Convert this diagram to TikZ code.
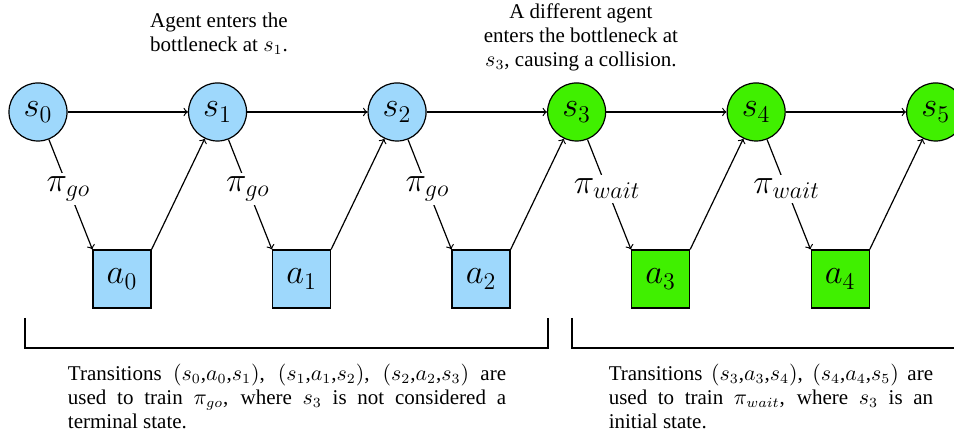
\documentclass[tikz,border=0pt]{standalone}
\usepackage[no-math]{fontspec}
\setmainfont{Liberation Serif}
\definecolor{goblue}{RGB}{158,216,252}
\definecolor{waitgreen}{RGB}{64,240,0}
\hyphenpenalty=10000
\exhyphenpenalty=10000

\begin{document}
\begin{tikzpicture}[semithick]

    \tikzset{statestyle/.style={draw,shape=circle,minimum size=1.02cm,inner sep=0pt,font=\LARGE},
             actionstyle/.style={draw,shape=rectangle,minimum size=1.02cm,inner sep=0pt,font=\LARGE},
             policystyle/.style={fill=white,font=\LARGE,inner sep=2pt},
             notestyle/.style={font=\fontsize{10.5}{12}\selectfont}}
    \useasboundingbox (-0.668,-5.711) rectangle (16.097,1.968);

    \node[statestyle,fill=goblue] (s0) at ( 0, 0) {$s_0$};
    \node[statestyle,fill=goblue] (s1) at ( 3.155, 0) {$s_1$};
    \node[statestyle,fill=goblue] (s2) at ( 6.31, 0) {$s_2$};
    \node[statestyle,fill=waitgreen] (s3) at ( 9.465, 0) {$s_3$};
    \node[statestyle,fill=waitgreen] (s4) at ( 12.62, 0) {$s_4$};
    \node[statestyle,fill=waitgreen] (s5) at ( 15.775, 0) {$s_5$};

    \node[actionstyle,fill=goblue] (a0) at ( 1.476, -2.935) {$a_0$};
    \node[actionstyle,fill=goblue] (a1) at ( 4.631, -2.935) {$a_1$};
    \node[actionstyle,fill=goblue] (a2) at ( 7.786, -2.935) {$a_2$};
    \node[actionstyle,fill=waitgreen] (a3) at ( 10.941, -2.935) {$a_3$};
    \node[actionstyle,fill=waitgreen] (a4) at ( 14.096, -2.935) {$a_4$};

    \begin{scope}[every path/.style={->}]
        \draw (s0) -- (s1);
        \draw (s1) -- (s2);
        \draw (s2) -- (s3);
        \draw (s3) -- (s4);
        \draw (s4) -- (s5);

        \draw (s0) -- (a0.north west) node[policystyle,pos=0.45]{$\pi_{go}$};
        \draw (s1) -- (a1.north west) node[policystyle,pos=0.45]{$\pi_{go}$};
        \draw (s2) -- (a2.north west) node[policystyle,pos=0.45]{$\pi_{go}$};
        \draw (s3) -- (a3.north west) node[policystyle,pos=0.45]{$\pi_{wait}$};
        \draw (s4) -- (a4.north west) node[policystyle,pos=0.45]{$\pi_{wait}$};

        \draw (a0.north east) -- (s1);
        \draw (a1.north east) -- (s2);
        \draw (a2.north east) -- (s3);
        \draw (a3.north east) -- (s4);
        \draw (a4.north east) -- (s5);
    \end{scope}

    \node[notestyle,align=center] (enter) at ( 3.18, 1.37) {Agent enters the\\ bottleneck at $s_1$.};
    \node[notestyle,align=center] (collide) at ( 9.54, 1.318) {A different agent\\ enters the bottleneck at\\ $s_3$, causing a collision.};

    % brackets under the two groups
    \draw (-0.228,-3.62) -- (-0.228,-4.147) -- (8.962,-4.147) -- (8.962,-3.62);
    \draw (9.384,-3.62) -- (9.384,-4.147) -- (16.3,-4.147);

    \node[notestyle,text width=7.7cm,align=justify] (gocap) at ( 4.376, -4.991) {Transitions $(s_0$,$a_0$,$s_1)$, $(s_1$,$a_1$,$s_2)$, $(s_2$,$a_2$,$s_3)$ are used to train $\pi_{go}$, where $s_3$ is not considered a terminal state.};
    \node[notestyle,text width=5.7cm,align=justify] (waitcap) at ( 12.88, -4.991) {Transitions $(s_3$,$a_3$,$s_4)$, $(s_4$,$a_4$,$s_5)$ are used to train $\pi_{wait}$, where $s_3$ is an initial state.};

\end{tikzpicture}
\end{document}
